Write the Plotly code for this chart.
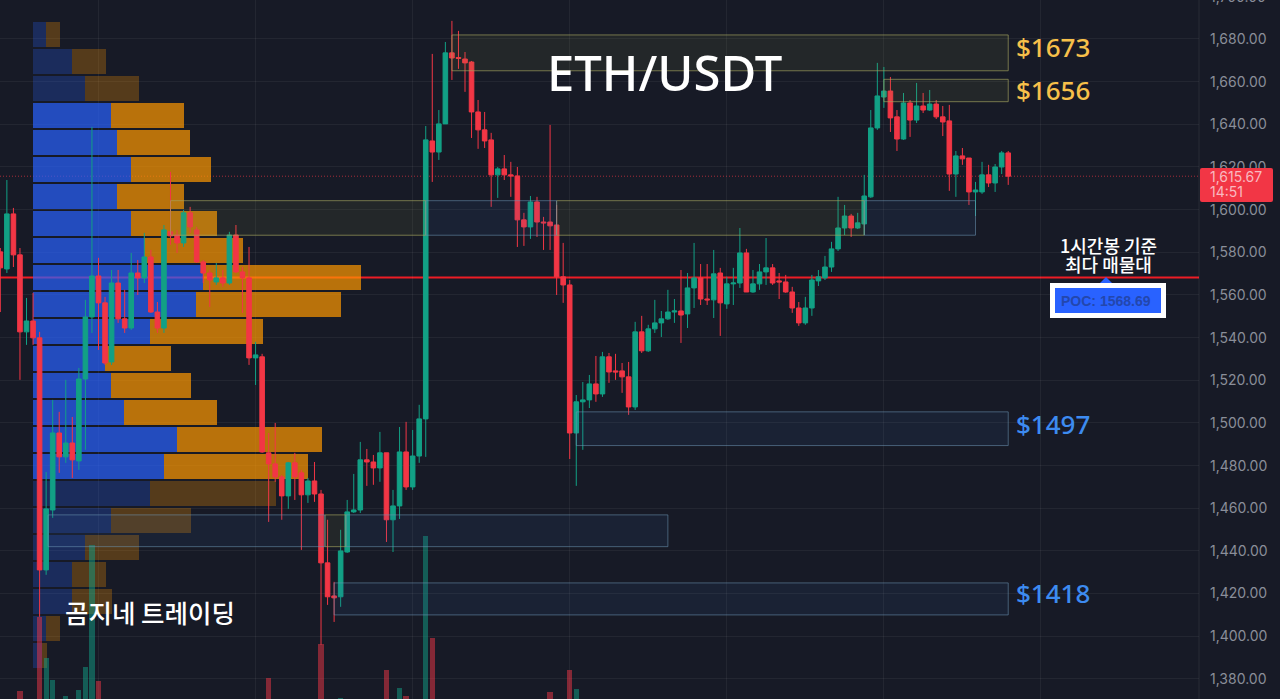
# ETH/USDT 1h chart with volume profile, supply/demand zones and POC line
import plotly.graph_objects as go

W, H = 1280, 699
AXIS_PX = 1199

# ---- candles (hourly) ----
opens = [1580.2, 1572.2, 1598.0, 1578.8, 1542.7, 1547.8, 1539.9, 1431.1, 1459.2, 1495.3,
         1484.1, 1490.6, 1482.2, 1520.6, 1549.7, 1568.9, 1556.3, 1528.6, 1565.6, 1548.8,
         1544.5, 1570.3, 1568.0, 1577.8, 1552.0, 1544.5, 1589.6, 1588.1, 1584.4, 1598.5,
         1590.5, 1575.5, 1570.3, 1566.1, 1568.0, 1565.6, 1588.1, 1570.8, 1568.0, 1530.5,
         1531.0, 1486.0, 1480.8, 1474.7, 1465.8, 1481.3, 1476.6, 1466.3, 1472.8, 1466.7,
         1434.4, 1418.9, 1418.5, 1439.5, 1458.3, 1459.2, 1482.7, 1481.7, 1478.9, 1486.0,
         1454.6, 1461.1, 1486.4, 1470.0, 1484.5, 1501.9, 1632.2, 1627.0, 1640.2, 1673.5,
         1671.3, 1670.6, 1669.2, 1645.8, 1637.4, 1632.7, 1616.3, 1619.1, 1616.3, 1615.8,
         1595.2, 1591.9, 1603.6, 1594.2, 1594.2, 1592.8, 1568.5, 1564.7, 1495.3, 1509.9,
         1510.8, 1518.3, 1513.6, 1531.0, 1524.4, 1524.4, 1521.6, 1507.5, 1542.7, 1533.8,
         1544.1, 1546.9, 1548.8, 1552.0, 1552.5, 1551.1, 1563.3, 1568.0, 1558.1, 1557.7,
         1570.3, 1555.8, 1565.2, 1565.6, 1579.7, 1561.4, 1565.2, 1570.8, 1572.7, 1566.6,
         1566.1, 1561.4, 1553.9, 1546.9, 1553.9, 1566.6, 1568.0, 1573.1, 1581.6, 1591.4,
         1597.0, 1591.4, 1593.3, 1606.0, 1638.3, 1652.8, 1655.6, 1643.5, 1633.1, 1650.0,
         1642.0, 1648.6, 1646.7, 1649.5, 1643.5, 1641.6, 1616.7, 1625.2, 1624.2, 1608.3,
         1608.3, 1616.3, 1612.5, 1620.0, 1626.6]
highs = [1582.0, 1613.9, 1600.8, 1582.0, 1558.6, 1561.0, 1542.7, 1477.0, 1510.8, 1505.2,
         1520.2, 1502.8, 1525.8, 1557.7, 1638.8, 1577.4, 1559.1, 1571.7, 1571.7, 1562.4,
         1579.7, 1576.4, 1589.1, 1581.1, 1556.7, 1592.8, 1617.7, 1590.5, 1599.9, 1601.3,
         1591.9, 1576.4, 1571.7, 1575.0, 1571.7, 1589.6, 1592.8, 1573.1, 1582.5, 1538.0,
         1532.4, 1495.3, 1500.0, 1475.6, 1481.7, 1486.0, 1478.0, 1474.2, 1481.7, 1468.6,
         1454.6, 1425.5, 1449.9, 1463.9, 1476.1, 1491.1, 1487.8, 1485.0, 1495.8, 1486.0,
         1468.6, 1498.1, 1500.5, 1496.7, 1508.5, 1639.2, 1673.0, 1646.7, 1678.6, 1688.5,
         1683.8, 1673.9, 1669.7, 1651.4, 1645.8, 1636.0, 1620.0, 1625.6, 1622.4, 1620.0,
         1598.5, 1606.4, 1606.0, 1596.6, 1639.7, 1602.2, 1584.4, 1567.0, 1513.1, 1519.2,
         1522.5, 1531.4, 1533.3, 1532.8, 1532.4, 1528.1, 1528.6, 1547.4, 1550.2, 1546.0,
         1557.7, 1552.5, 1562.4, 1558.1, 1571.7, 1570.3, 1584.4, 1574.5, 1574.5, 1581.1,
         1572.7, 1568.5, 1572.7, 1591.4, 1581.6, 1571.7, 1574.5, 1586.7, 1574.5, 1570.3,
         1569.4, 1563.8, 1556.7, 1559.1, 1569.4, 1571.7, 1578.3, 1584.9, 1606.0, 1602.2,
         1598.0, 1598.5, 1616.3, 1646.7, 1668.8, 1666.9, 1662.2, 1646.7, 1654.7, 1651.4,
         1659.4, 1654.7, 1656.1, 1651.4, 1648.6, 1649.1, 1627.5, 1628.9, 1624.2, 1613.0,
         1622.4, 1621.0, 1621.4, 1627.5, 1627.5]
lows = [1552.0, 1570.3, 1573.1, 1520.2, 1536.6, 1536.6, 1409.1, 1428.8, 1455.5, 1476.6,
        1481.3, 1474.2, 1478.0, 1487.4, 1542.2, 1534.2, 1527.2, 1527.2, 1546.9, 1542.2,
        1543.6, 1560.0, 1565.6, 1551.6, 1542.2, 1542.2, 1583.5, 1579.7, 1582.5, 1589.1,
        1575.0, 1565.6, 1554.4, 1564.7, 1563.8, 1564.7, 1570.3, 1551.6, 1527.2, 1517.8,
        1486.0, 1453.6, 1472.4, 1454.6, 1459.7, 1463.9, 1440.5, 1462.5, 1463.0, 1396.0,
        1414.7, 1406.7, 1413.8, 1439.1, 1457.8, 1457.8, 1470.5, 1471.0, 1472.4, 1444.2,
        1439.5, 1455.0, 1468.6, 1468.6, 1481.3, 1484.1, 1613.0, 1623.3, 1640.2, 1660.8,
        1666.0, 1655.2, 1633.6, 1628.5, 1628.9, 1601.3, 1605.5, 1613.9, 1606.0, 1582.5,
        1583.0, 1586.3, 1587.2, 1581.1, 1581.1, 1560.0, 1556.3, 1483.1, 1470.5, 1487.4,
        1507.0, 1509.9, 1512.2, 1518.8, 1520.2, 1514.1, 1503.8, 1506.1, 1532.8, 1533.3,
        1542.2, 1540.3, 1548.3, 1546.9, 1537.5, 1544.5, 1553.9, 1555.3, 1555.3, 1549.2,
        1540.8, 1553.5, 1555.3, 1563.3, 1561.4, 1561.0, 1562.4, 1564.7, 1564.7, 1558.1,
        1561.0, 1551.6, 1545.5, 1546.0, 1550.2, 1564.2, 1567.0, 1570.8, 1580.6, 1588.1,
        1587.2, 1590.9, 1588.1, 1605.5, 1637.4, 1647.7, 1636.4, 1627.5, 1632.7, 1634.1,
        1640.6, 1645.3, 1646.3, 1642.5, 1634.5, 1608.8, 1606.0, 1621.0, 1602.2, 1597.0,
        1607.4, 1610.6, 1608.3, 1616.7, 1611.6]
closes = [1572.7, 1598.0, 1578.8, 1542.7, 1547.8, 1539.9, 1431.1, 1459.7, 1495.3, 1484.1,
          1490.6, 1482.7, 1520.6, 1549.7, 1568.9, 1556.3, 1528.1, 1565.6, 1548.8, 1544.5,
          1570.3, 1568.0, 1577.8, 1552.0, 1544.5, 1590.5, 1587.7, 1584.4, 1598.5, 1591.9,
          1575.5, 1570.3, 1567.0, 1568.0, 1565.6, 1588.1, 1570.8, 1568.0, 1530.5, 1531.9,
          1486.4, 1480.8, 1474.7, 1465.8, 1481.3, 1474.7, 1466.3, 1472.8, 1466.7, 1434.4,
          1418.5, 1418.0, 1440.0, 1458.3, 1459.2, 1482.7, 1481.7, 1478.9, 1486.0, 1454.6,
          1461.1, 1486.4, 1470.0, 1484.5, 1501.9, 1632.7, 1627.0, 1640.2, 1673.5, 1671.1,
          1670.9, 1668.8, 1645.8, 1637.4, 1632.2, 1616.3, 1619.1, 1616.3, 1615.8, 1595.2,
          1591.9, 1603.6, 1594.2, 1593.8, 1592.4, 1568.5, 1564.7, 1495.3, 1509.9, 1510.8,
          1518.3, 1513.6, 1531.0, 1523.9, 1523.9, 1521.6, 1507.5, 1542.7, 1533.8, 1544.1,
          1546.9, 1548.8, 1552.0, 1552.5, 1550.6, 1563.3, 1568.0, 1558.1, 1557.7, 1569.9,
          1556.3, 1565.2, 1565.6, 1579.7, 1561.4, 1565.2, 1570.8, 1572.7, 1565.6, 1566.1,
          1561.4, 1553.9, 1546.9, 1553.9, 1567.0, 1568.5, 1573.1, 1581.6, 1591.4, 1597.0,
          1591.4, 1593.8, 1606.4, 1638.3, 1653.3, 1655.6, 1643.0, 1633.1, 1650.0, 1642.0,
          1648.6, 1646.7, 1649.5, 1643.5, 1641.1, 1616.7, 1625.2, 1623.8, 1608.3, 1609.2,
          1616.3, 1612.5, 1620.0, 1626.6, 1615.67]
candle_idx = list(range(len(closes)))

# ---- volume (only the bars tall enough to show at the bottom edge) ----
vol_idx = [3, 6, 7, 8, 10, 12, 13, 14, 15, 41, 49, 52, 59, 61, 62, 65, 66, 84, 87, 88]
vol_val = [8, 82, 41, 19, 3, 9, 32, 154, 18, 21, 55, 1, 29, 11, 3, 163, 61, 7, 29, 10]

# ---- volume profile rows ----
vp_price = [1682.0, 1669.3, 1656.7, 1644.0, 1631.4, 1618.7, 1606.1, 1593.4,
            1580.8, 1568.1, 1555.5, 1542.8, 1530.1, 1517.5, 1504.8, 1492.2,
            1479.5, 1466.9, 1454.2, 1441.5, 1428.9, 1416.2, 1403.6, 1390.9]
vp_buy = [13, 39, 52, 78, 84, 98, 84, 98, 111, 170, 163, 117,
          72, 78, 91, 144, 131, 117, 78, 52, 39, 39, 13, 9]
vp_sell = [14, 34, 54, 73, 73, 80, 67, 86, 99, 158, 145, 113,
           66, 80, 93, 145, 144, 126, 80, 54, 34, 40, 14, 5]
vp_in_value_area = [False, False, False, True, True, True, True, True, True, True, True, True,
                    True, True, True, True, True, False, False, False, False, False, False, False]

# ---- zones: (first candle, last candle, top price, bottom price) ----
olive_zones = [(69, 154, 1681.9, 1665.1), (135, 154, 1661.1, 1650.6),
               (26, 65, 1604.2, 1588.0), (85, 132, 1604.2, 1588.0),
               (49.6, 52.8, 1456.9, 1442.0)]
blue_zones = [(65, 85, 1604.2, 1588.0), (132, 149, 1604.2, 1588.0),
              (88, 154, 1505.2, 1489.4), (7.3, 49.6, 1456.9, 1442.0),
              (52.8, 102, 1456.9, 1442.0), (51, 154, 1425.0, 1410.0)]

price_ticks = [1380, 1400, 1420, 1440, 1460, 1480, 1500, 1520, 1540, 1560,
               1580, 1600, 1620, 1640, 1660, 1680]
day_ticks = [15, 39, 63, 87, 111, 135, 159]
poc_line = 1568.2
last_price = 1615.67

BG = '#171a26'
GRID = 'rgba(255,255,255,0.055)'
RED = '#f23645'
GREEN = '#12a085'
BLUE = '41,98,255'
ORANGE = '255,152,0'


def xp(px):
    return px / W


def yp(py):
    return 1 - py / H


fig = go.Figure()

# volume profile sits on the base axes, the price line shows through it
fig.add_trace(go.Bar(
    y=vp_price, x=vp_buy, orientation='h', width=11.7, xaxis='x', yaxis='y',
    marker=dict(color=[f'rgba({BLUE},{0.7 if v else 0.25})' for v in vp_in_value_area], line_width=0),
    hoverinfo='skip'))
fig.add_trace(go.Bar(
    y=vp_price, x=vp_sell, orientation='h', width=11.7, xaxis='x', yaxis='y',
    marker=dict(color=[f'rgba({ORANGE},{0.7 if v else 0.27})' for v in vp_in_value_area], line_width=0),
    hoverinfo='skip'))

fig.add_trace(go.Candlestick(
    x=candle_idx, open=opens, high=highs, low=lows, close=closes,
    xaxis='x2', yaxis='y',
    increasing=dict(line=dict(color=GREEN, width=1), fillcolor=GREEN),
    decreasing=dict(line=dict(color=RED, width=1), fillcolor=RED),
    whiskerwidth=0))

vol_colors = ['rgba(18,160,133,0.5)' if closes[i] >= opens[i] else 'rgba(242,54,69,0.5)' for i in vol_idx]
fig.add_trace(go.Bar(
    x=vol_idx, y=vol_val, width=0.8, xaxis='x2', yaxis='y2',
    marker=dict(color=vol_colors, line_width=0), hoverinfo='skip'))

shapes = []
# POC and last price lines
shapes.append(dict(type='line', layer='below', xref='paper', yref='y', x0=0, x1=xp(AXIS_PX),
                   y0=poc_line, y1=poc_line, line=dict(color='#ee1c25', width=2)))
shapes.append(dict(type='line', layer='below', xref='paper', yref='y', x0=0, x1=xp(AXIS_PX),
                   y0=last_price, y1=last_price, line=dict(color='rgba(242,54,69,0.65)', width=1, dash='1px,2px')))
# axis edge
shapes.append(dict(type='line', xref='paper', yref='paper', x0=xp(AXIS_PX), x1=xp(AXIS_PX), y0=0, y1=1,
                   line=dict(color='rgba(255,255,255,0.07)', width=1)))

for x0, x1, top, bottom in olive_zones:
    shapes.append(dict(type='rect', xref='x2', yref='y', x0=x0, x1=x1, y0=bottom, y1=top,
                       fillcolor='rgba(150,160,70,0.10)', line=dict(color='rgba(165,165,95,0.65)', width=1)))
for x0, x1, top, bottom in blue_zones:
    shapes.append(dict(type='rect', xref='x2', yref='y', x0=x0, x1=x1, y0=bottom, y1=top,
                       fillcolor='rgba(60,110,180,0.10)', line=dict(color='rgba(110,150,180,0.55)', width=1)))


def rounded(x0, y0, x1, y1, r, color):
    path = (f'M {xp(x0 + r)} {yp(y0)} L {xp(x1 - r)} {yp(y0)} Q {xp(x1)} {yp(y0)} {xp(x1)} {yp(y0 + r)} '
            f'L {xp(x1)} {yp(y1 - r)} Q {xp(x1)} {yp(y1)} {xp(x1 - r)} {yp(y1)} '
            f'L {xp(x0 + r)} {yp(y1)} Q {xp(x0)} {yp(y1)} {xp(x0)} {yp(y1 - r)} '
            f'L {xp(x0)} {yp(y0 + r)} Q {xp(x0)} {yp(y0)} {xp(x0 + r)} {yp(y0)} Z')
    return dict(type='path', xref='paper', yref='paper', path=path, fillcolor=color, line_width=0)


# price tag and POC label
shapes.append(rounded(1200, 168, 1273, 202, 2, RED))
shapes.append(dict(type='rect', xref='paper', yref='paper', x0=xp(1050), x1=xp(1166), y0=yp(318), y1=yp(283),
                   fillcolor='white', line_width=0))
shapes.append(dict(type='rect', xref='paper', yref='paper', x0=xp(1055), x1=xp(1161), y0=yp(313), y1=yp(288),
                   fillcolor=f'rgb({BLUE})', line_width=0))
shapes.append(dict(type='path', xref='paper', yref='paper',
                   path=f'M {xp(1100)} {yp(283)} L {xp(1106)} {yp(277)} L {xp(1112)} {yp(283)} Z',
                   fillcolor=f'rgb({BLUE})', line_width=0))


def label(px, py, text, size, color, family='Noto Sans', anchor='center', weight=500):
    return dict(xref='paper', yref='paper', x=xp(px), y=yp(py), text=text, showarrow=False,
                xanchor=anchor, yanchor='middle', font=dict(size=size, color=color, family=family, weight=weight))


KR = 'Noto Sans CJK KR'
TICK_SIZE = 14
annotations = [
    label(664, 72, 'ETH/USDT', 49, 'white'),
    label(1014, 47, '$1673', 26, '#f7c04a', anchor='left'),
    label(1014, 90, '$1656', 26, '#f7c04a', anchor='left'),
    label(1014, 424, '$1497', 26, '#3d8bf0', anchor='left'),
    label(1014, 593, '$1418', 26, '#3d8bf0', anchor='left'),
    label(150, 611, '곰지네 트레이딩', 25.5, 'white', KR),
    label(1108, 245, '1시간봉 기준', 18, 'white', KR),
    label(1108, 264, '최다 매물대', 18, 'white', KR),
    label(1106, 301, 'POC: 1568.69', 14, '#2347ad', 'Liberation Sans', weight=700),
    label(1208, 176, '1,615.67', TICK_SIZE, '#f9b9c0', 'Inter', 'left', 400),
    label(1208, 191, '14:51', TICK_SIZE, '#f9b9c0', 'Inter', 'left', 400),
    label(1208, -3, '1,700.00', TICK_SIZE, '#8a8e99', 'Inter', 'left', 400),
]

fig.update_layout(
    width=W, height=H, margin=dict(l=0, r=0, t=0, b=0),
    paper_bgcolor=BG, plot_bgcolor=BG, showlegend=False, barmode='stack',
    boxgap=0.3, boxgroupgap=0,
    shapes=shapes, annotations=annotations,
    xaxis=dict(domain=[0, AXIS_PX / W], range=[-33, 1166], showgrid=False, zeroline=False,
               showticklabels=False, ticks=''),
    xaxis2=dict(domain=[0, AXIS_PX / W], range=[-0.05, 183.15], overlaying='x', anchor='y',
                tickvals=day_ticks, showgrid=True, gridcolor=GRID, gridwidth=1, zeroline=False,
                showticklabels=False, ticks='', rangeslider=dict(visible=False)),
    yaxis=dict(side='right', range=[1370.58, 1698.28], tickvals=price_ticks, tickformat=',.2f',
               showgrid=True, gridcolor=GRID, gridwidth=1, zeroline=False, ticks='',
               ticklabelstandoff=10, tickfont=dict(family='Inter', size=TICK_SIZE, color='#8a8e99')),
    yaxis2=dict(overlaying='y', range=[0, H], visible=False, fixedrange=True),
)

# plotly's page keeps the browser's default body margin, drop it so the chart fills the window
fig.write_html("out.html", config=dict(displayModeBar=False),
               post_script="document.body.style.margin='0';document.body.style.overflow='hidden';document.body.style.background='" + BG + "';")
